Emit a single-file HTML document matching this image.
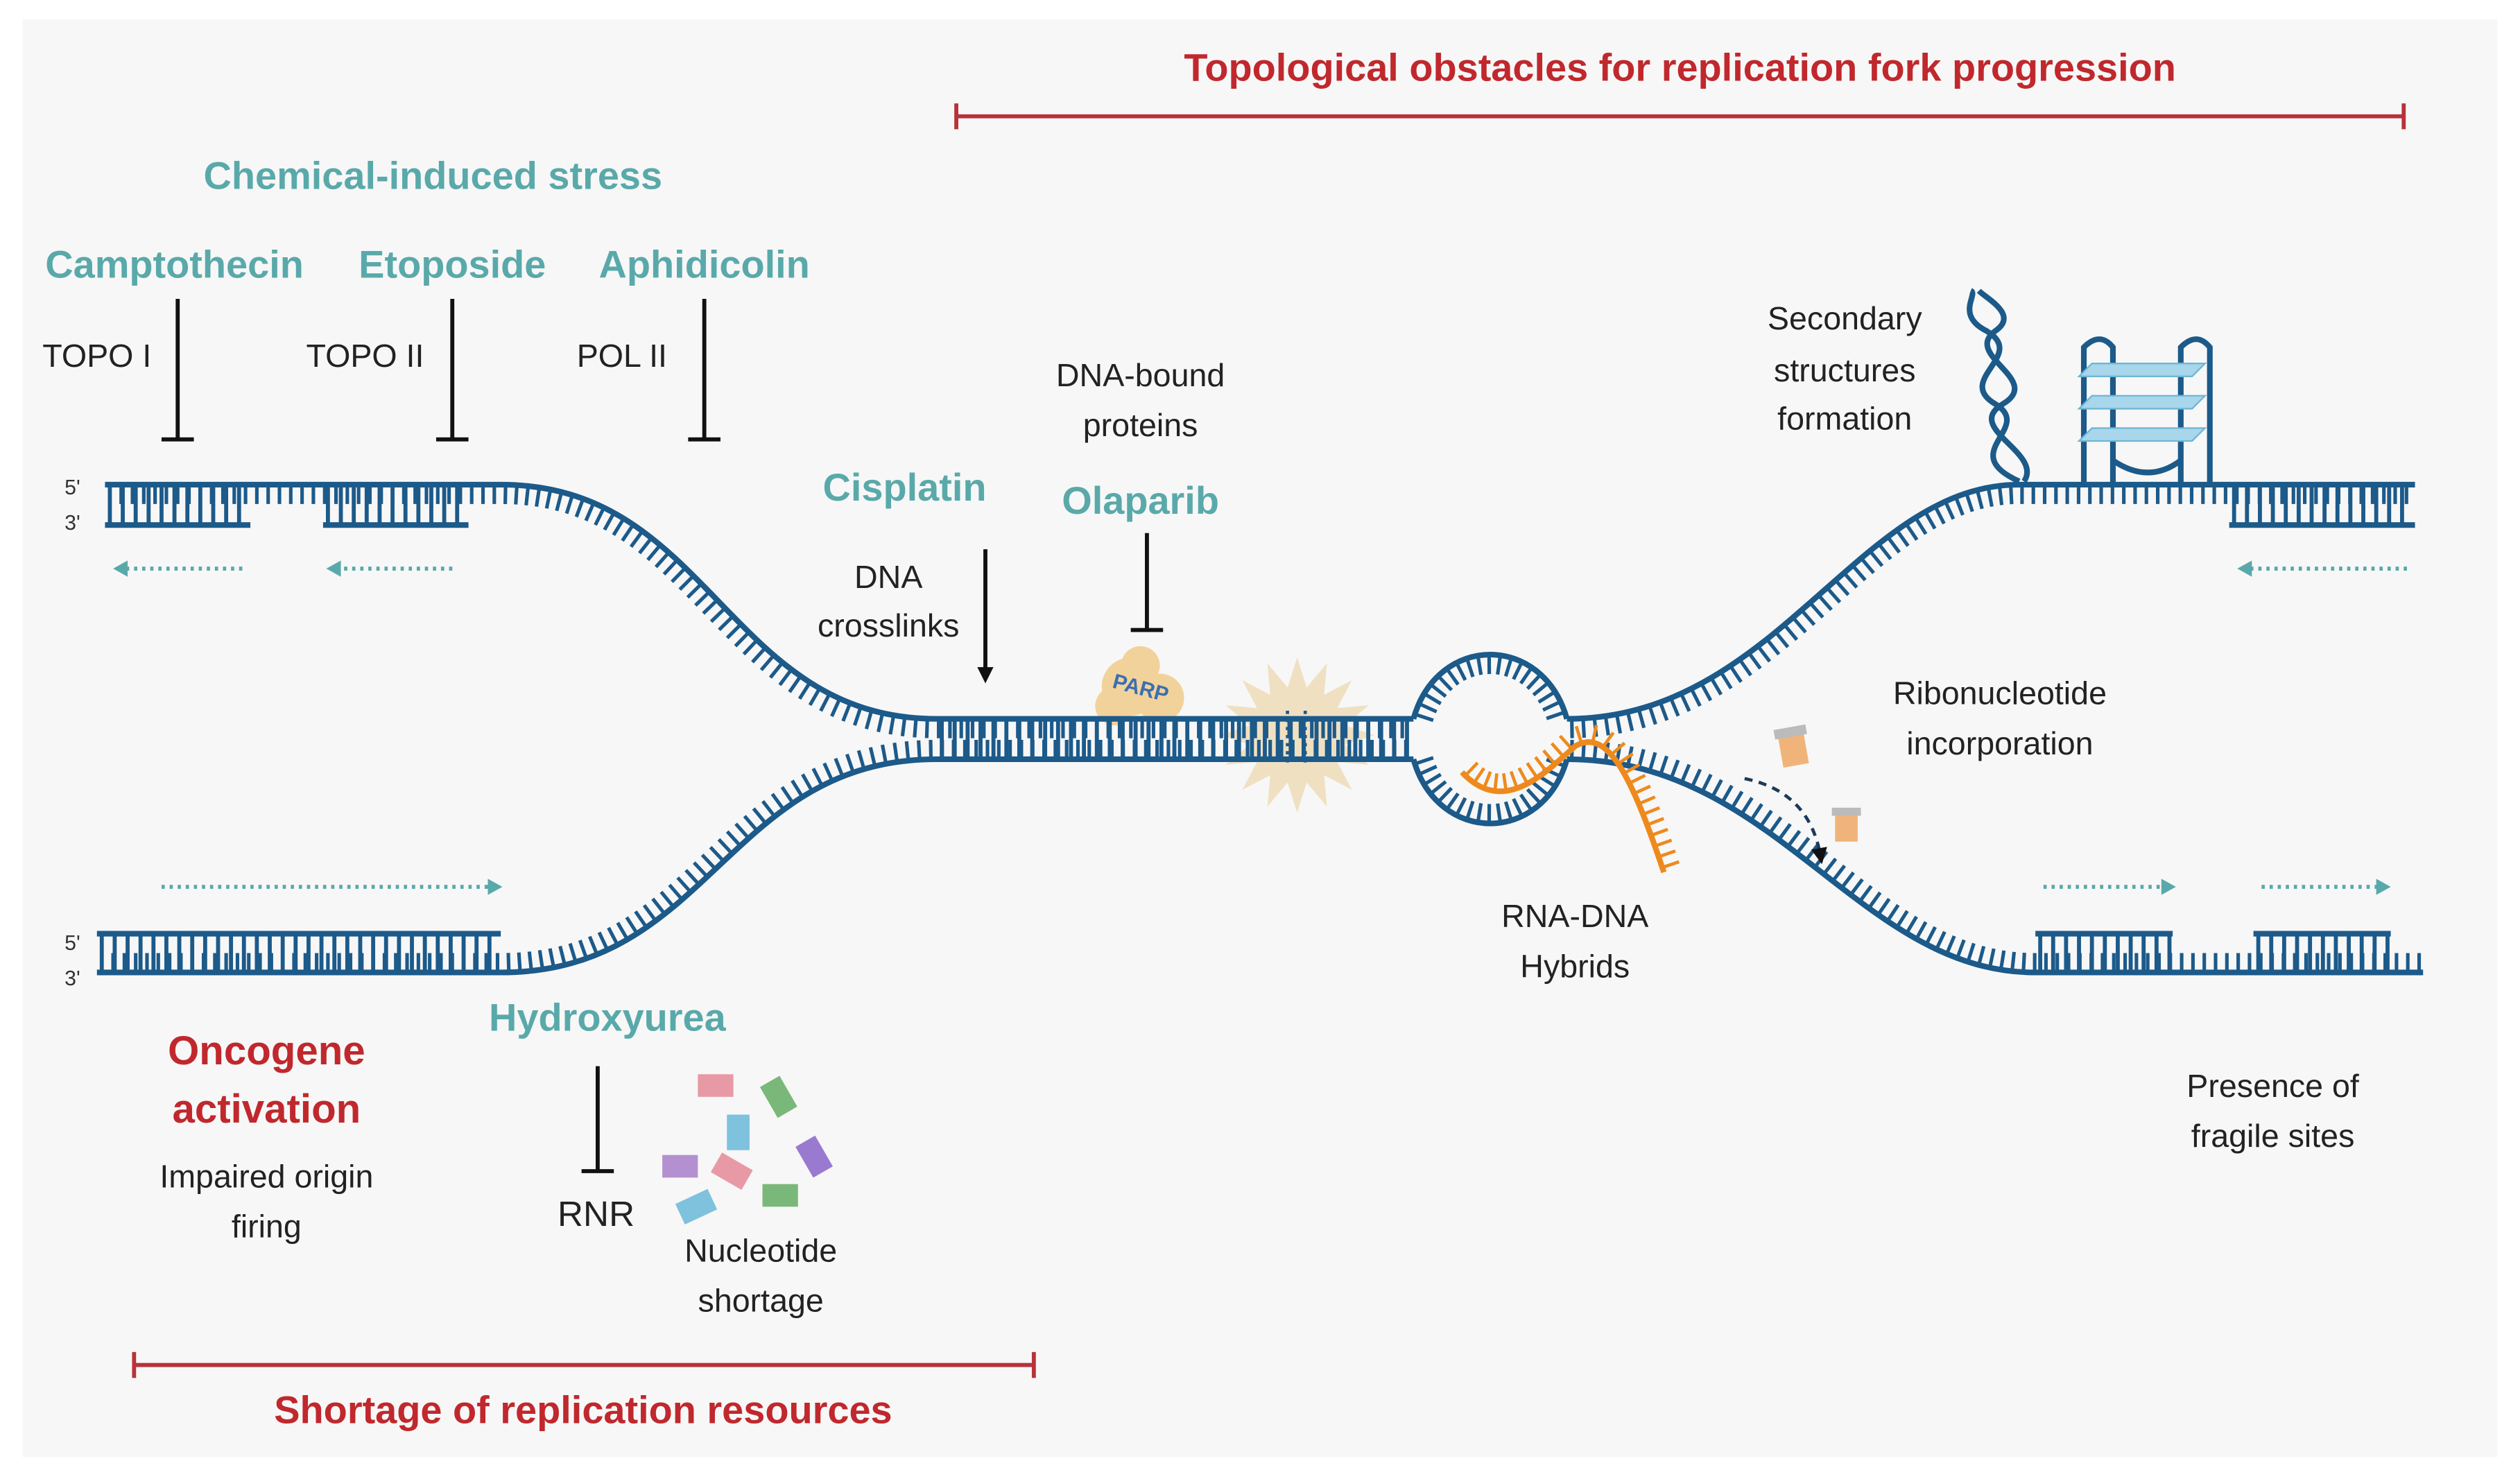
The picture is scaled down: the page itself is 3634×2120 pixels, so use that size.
<!DOCTYPE html>
<html><head><meta charset="utf-8">
<style>
html,body{margin:0;padding:0;background:#fff;}
svg{display:block;}
text{font-family:"Liberation Sans",sans-serif;}
.t{fill:#5aa9aa;font-weight:bold;font-size:24px;text-anchor:middle;}
.k{fill:#222;font-size:20px;text-anchor:middle;}
.r{fill:#c0282d;font-weight:bold;font-size:24px;text-anchor:middle;}
</style></head><body>
<svg id="s" width="3634" height="2120" viewBox="0 0 1560 910" preserveAspectRatio="none" xmlns="http://www.w3.org/2000/svg">
<rect x="0" y="0" width="1560" height="910" fill="#fff"/>
<rect x="14" y="12" width="1532" height="890" fill="#f7f7f7"/>
<defs>
<marker id="ah" markerWidth="10" markerHeight="10" refX="5" refY="5" orient="auto" markerUnits="userSpaceOnUse"><path d="M0,0 L10,5 L0,10 z" fill="#111"/></marker>
</defs>
<g stroke="#b8323a" stroke-width="2.5" fill="none">
<path d="M592,72 H1488 M592,64 V80 M1488,64 V80"/>
<path d="M83,845 H640 M83,837 V853 M640,837 V853"/>
</g>
<text class="r" x="1040" y="50">Topological obstacles for replication fork progression</text>
<text class="r" x="361" y="881">Shortage of replication resources</text>
<text class="t" x="268" y="117">Chemical-induced stress</text>
<text class="t" x="108" y="172">Camptothecin</text>
<text class="t" x="280" y="172">Etoposide</text>
<text class="t" x="436" y="172">Aphidicolin</text>
<text class="k" x="60" y="227">TOPO I</text>
<text class="k" x="226" y="227">TOPO II</text>
<text class="k" x="385" y="227">POL II</text>
<g stroke="#111" stroke-width="2.5">
<path d="M110,185 V272 M100,272 H120"/>
<path d="M280,185 V272 M270,272 H290"/>
<path d="M436,185 V272 M426,272 H446"/>
<path d="M710,330 V390 M700,390 H720"/>
<path d="M370,660 V725 M360,725 H380"/>
<path d="M610,340 V418" marker-end="url(#ah)"/>
</g>
<text class="k" x="706" y="239">DNA-bound</text>
<text class="k" x="706" y="270">proteins</text>
<text class="t" x="560" y="310">Cisplatin</text>
<text class="t" x="706" y="318">Olaparib</text>
<text class="k" x="550" y="364">DNA</text>
<text class="k" x="550" y="394">crosslinks</text>
<text class="k" x="1142" y="204">Secondary</text>
<text class="k" x="1142" y="236">structures</text>
<text class="k" x="1142" y="266">formation</text>
<text class="k" x="1238" y="436">Ribonucleotide</text>
<text class="k" x="1238" y="467">incorporation</text>
<text class="k" x="975" y="574">RNA-DNA</text>
<text class="k" x="975" y="605">Hybrids</text>
<text class="k" x="1407" y="679">Presence of</text>
<text class="k" x="1407" y="710">fragile sites</text>
<text class="r" x="165" y="659" style="font-size:25px">Oncogene</text>
<text class="r" x="165" y="695" style="font-size:25px">activation</text>
<text class="k" x="165" y="735">Impaired origin</text>
<text class="k" x="165" y="766">firing</text>
<text class="t" x="376" y="638">Hydroxyurea</text>
<text class="k" x="369" y="759" style="font-size:22px">RNR</text>
<text class="k" x="471" y="781">Nucleotide</text>
<text class="k" x="471" y="812">shortage</text>
<g font-size="13" fill="#333"><text x="40" y="306">5'</text><text x="40" y="328">3'</text><text x="40" y="588">5'</text><text x="40" y="610">3'</text></g>

<polygon id="star" fill="#efdcb8" opacity="0.85" points=""/>
<g fill="#f2cf92" opacity="0.9"><circle cx="700" cy="425" r="18"/><circle cx="718" cy="432" r="15"/><circle cx="690" cy="437" r="12"/><circle cx="706" cy="412" r="12"/></g>
<text x="688" y="430" font-size="13" font-weight="bold" fill="#3a6fb0" transform="rotate(15 705 428)">PARP</text>

<g stroke="#5aa9aa" stroke-width="2.5" stroke-dasharray="2 3" fill="none">
<path d="M150,352 H78"/><path d="M280,352 H210"/><path d="M1490,352 H1393"/>
<path d="M100,549 H302"/><path d="M1265,549 H1338"/><path d="M1400,549 H1472"/>
</g>
<g fill="#5aa9aa">
<path d="M70,352 l9,-5 v10z"/><path d="M202,352 l9,-5 v10z"/><path d="M1385,352 l9,-5 v10z"/>
<path d="M311,549 l-9,-5 v10z"/><path d="M1347,549 l-9,-5 v10z"/><path d="M1480,549 l-9,-5 v10z"/>
</g>

<g id="dna" stroke="#1c5a8a" fill="none" stroke-width="3.5">
<path id="p1" d="M65,300 L310,300 C440,300 450,445 580,445 L875,445"/>
<path id="p2" d="M875,445 C890,392 955,392 970,445"/>
<path id="p3" d="M875,470 C890,523 955,523 970,470"/>
<path id="p4" d="M970,445 C1100,445 1150,300 1250,300 L1495,300"/>
<path id="p5" d="M970,470 C1100,470 1150,602 1260,602 L1500,602"/>
<path id="p6" d="M60,602 L310,602 C440,602 450,470 580,470 L875,470"/>
<path d="M65,325 H155 M200,325 H290 M1380,325 H1495 M60,578 H310 M1260,578 H1345 M1395,578 H1480"/>
</g>
<g id="rungs" stroke="#1c5a8a" stroke-width="2.5"></g>
<g id="tk" stroke="#1c5a8a" stroke-width="2.2"></g>

<path id="or" d="M905,478 C930,505 955,480 975,462 C995,450 1010,480 1030,540" stroke="#ee8a1d" stroke-width="3.5" fill="none"/>
<g id="otk" stroke="#ee8a1d" stroke-width="2"></g>
<g stroke="#1c5a8a" stroke-width="2" stroke-dasharray="2 3"><path d="M797,440 V475 M808,440 V475"/></g>

<g stroke="#1c5a8a" stroke-width="3.5" fill="none">
<path d="M1250,298 C1210,280 1260,265 1235,250 C1210,235 1255,220 1230,205 C1210,195 1225,182 1220,180"/>
<path d="M1253,298 C1265,280 1215,265 1240,250 C1265,235 1215,220 1235,205 C1250,195 1230,185 1225,180"/>
<path d="M1290,300 V215 Q1300,205 1308,215 V300 M1350,300 V215 Q1360,205 1368,215 V300"/>
<path d="M1308,285 Q1330,300 1350,285"/>
</g>
<g fill="#a8d6ea" stroke="#6fb6d6"><path d="M1295,225 h70 l-8,8 h-70z M1295,245 h70 l-8,8 h-70z M1295,265 h70 l-8,8 h-70z"/></g>

<g><rect x="1102" y="452" width="16" height="22" fill="#f0b47a" transform="rotate(-10 1110 463)"/><rect x="1100" y="450" width="20" height="6" fill="#bbb" transform="rotate(-10 1110 463)"/>
<rect x="1136" y="503" width="14" height="18" fill="#f0b47a"/><rect x="1134" y="500" width="18" height="5" fill="#bbb"/></g>
<path d="M1080,482 Q1120,490 1127,530" stroke="#1c3a5a" stroke-width="2" stroke-dasharray="5 4" fill="none" marker-end="url(#ah)"/>

<g>
<rect x="432" y="665" width="22" height="14" fill="#e79aa6"/><rect x="475" y="668" width="14" height="22" fill="#7ab87a" transform="rotate(-30 482 679)"/>
<rect x="450" y="690" width="14" height="22" fill="#7ec2de"/><rect x="410" y="715" width="22" height="14" fill="#b490d0"/>
<rect x="442" y="718" width="22" height="14" fill="#e79aa6" transform="rotate(30 453 725)"/><rect x="497" y="705" width="14" height="22" fill="#9a7ad0" transform="rotate(-30 504 716)"/>
<rect x="420" y="740" width="22" height="14" fill="#7ec2de" transform="rotate(-25 431 747)"/><rect x="472" y="733" width="22" height="14" fill="#7ab87a"/>
</g>
</svg>
<script>
(function(){
var NS="http://www.w3.org/2000/svg";
function add(g,x1,y1,x2,y2){var l=document.createElementNS(NS,"line");l.setAttribute("x1",x1);l.setAttribute("y1",y1);l.setAttribute("x2",x2);l.setAttribute("y2",y2);g.appendChild(l);}
function ticks(id,gid,side,len,sp){var p=document.getElementById(id),g=document.getElementById(gid),L=p.getTotalLength();
for(var s=3;s<L;s+=sp){var a=p.getPointAtLength(s),b=p.getPointAtLength(Math.min(L,s+0.5)),dx=b.x-a.x,dy=b.y-a.y,n=Math.hypot(dx,dy)||1;
var nx=-dy/n*side,ny=dx/n*side;add(g,a.x,a.y,a.x+nx*len,a.y+ny*len);}}
ticks("p1","tk",1,12,7);ticks("p2","tk",1,12,7);ticks("p3","tk",-1,12,7);
ticks("p4","tk",1,12,7);ticks("p5","tk",-1,12,7);ticks("p6","tk",-1,12,7);
ticks("or","otk",-1,11,7);
var R=document.getElementById("rungs");
function rung(x1,x2,y1,y2){for(var x=x1+3;x<x2;x+=8)add(R,x,y1,x,y2);}
rung(65,155,300,325);rung(200,290,300,325);rung(580,875,445,470);rung(1380,1495,300,325);
rung(60,310,578,602);rung(1260,1345,578,602);rung(1395,1480,578,602);
var pts=[],cx=803,cy=455;for(var i=0;i<32;i++){var r=i%2?30:48,a=i*Math.PI/16;pts.push((cx+r*Math.cos(a)).toFixed(1)+","+(cy+r*Math.sin(a)).toFixed(1));}
document.getElementById("star").setAttribute("points",pts.join(" "));
})();
</script>
</body></html>
